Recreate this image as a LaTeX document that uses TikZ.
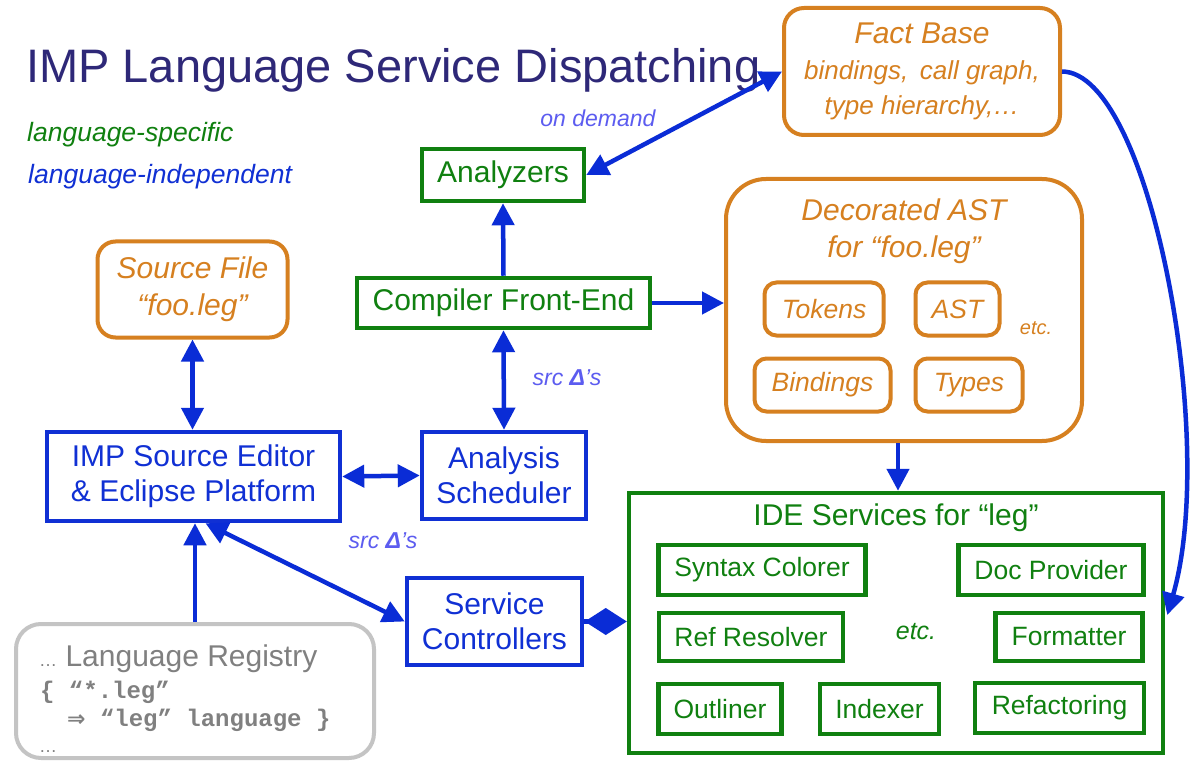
\documentclass[tikz,border=0pt]{standalone}
\usepackage{fontspec}
\setmainfont{Liberation Sans}
\newfontfamily\codefont{Liberation Mono}
\newfontfamily\arrowfont{DejaVu Sans}
\usetikzlibrary{arrows.meta,calc}

\definecolor{impblue}{RGB}{16,48,212}
\definecolor{linkblue}{RGB}{10,44,214}
\definecolor{impgreen}{RGB}{16,128,16}
\definecolor{imporange}{RGB}{214,128,32}
\definecolor{titlenavy}{RGB}{46,40,120}
\definecolor{notecol}{RGB}{92,92,240}
\definecolor{regline}{RGB}{196,196,196}
\definecolor{regtext}{RGB}{128,128,128}

\newcommand\fsz[2]{\fontsize{#1}{#2}\selectfont}

\begin{document}
\begin{tikzpicture}[x=1pt,y=-1pt,
  font=\fsz{30}{35},
  bluebox/.style={draw=impblue, line width=4.5pt, text=impblue, align=center, inner sep=0pt},
  greenbox/.style={draw=impgreen, line width=4.5pt, text=impgreen, align=center, inner sep=0pt},
  svcbox/.style={greenbox, font=\fsz{26.5}{31}},
  orangebox/.style={draw=imporange, line width=4pt, text=imporange, align=center,
                    inner sep=0pt, rounded corners=#1, font=\fsz{30}{37}\itshape},
  orangebox/.default=18pt,
  partbox/.style={orangebox=12pt, font=\fsz{26.5}{31}\itshape},
  note/.style={text=notecol, font=\fsz{23}{26}\itshape},
  link/.style={draw=linkblue, line width=4.5pt, -{Triangle[length=22pt,width=22pt]}},
  duplex/.style={draw=linkblue, line width=4.5pt, {Triangle[length=22pt,width=22pt]}-{Triangle[length=22pt,width=22pt]}}
]
\fill[white] (0,0) rectangle (1192,762);
\useasboundingbox (0,0) rectangle (1192,762);

% title and legend
\node[anchor=base west, inner sep=0pt, text=titlenavy, font=\fsz{47}{52}] (title) at (26,83) {IMP Language Service Dispatching};
\node[anchor=base west, inner sep=0pt, text=impgreen, font=\fsz{26.5}{30}\itshape] (legspec) at (27,142) {language-specific};
\node[anchor=base west, inner sep=0pt, text=impblue, font=\fsz{26.5}{30}\itshape] (legindep) at (28,184) {language-independent};

% fact base
\node[orangebox=20pt, minimum width=276pt, minimum height=127pt] (fb) at (922,71.5)
  {{\fsz{30}{35}\itshape Fact Base}\\[-1pt]
   {\fsz{26}{33}\itshape bindings,\, call graph,}\\[-2pt]
   {\fsz{26}{33}\itshape type hierarchy,\dots}};

% analyzers and compiler front-end
\node[greenbox, minimum width=162pt, minimum height=52pt] (an) at (503,175) {Analyzers};
\node[greenbox, minimum width=293pt, minimum height=50pt] (cfe) at (503.5,303) {Compiler Front-End};
\node[note] (ondemand) at (598,118) {on demand};

% decorated AST with its parts
\node[orangebox=40pt, minimum width=356pt, minimum height=262pt] (dast) at (904,310) {};
\node[text=imporange, align=center, font=\fsz{30}{37}\itshape] (dastlabel) at (904,231.5) {Decorated AST\\for “foo.leg”};
\node[partbox, minimum width=119pt, minimum height=53pt] (tokens) at (824,309) {Tokens};
\node[partbox, minimum width=84pt, minimum height=53pt] (ast) at (957.5,309) {AST};
\node[partbox, minimum width=136pt, minimum height=53pt] (bindings) at (822.5,385) {Bindings};
\node[partbox, minimum width=107pt, minimum height=53pt] (types) at (969,385) {Types};
\node[text=imporange, font=\fsz{20}{24}\itshape] (astetc) at (1036,328) {etc.};

% source file, editor, scheduler
\node[orangebox=18pt, minimum width=190pt, minimum height=96pt] (src) at (192.5,289.5) {Source File\\“foo.leg”};
\node[bluebox, minimum width=293pt, minimum height=89pt] (ed) at (193.5,476.5) {IMP Source Editor\\\& Eclipse Platform};
\node[bluebox, minimum width=164pt, minimum height=87pt] (sched) at (504,475.5) {Analysis\\Scheduler};
\node[note] (deltaA) at (567,378) {src \textbf{Δ}’s};
\node[note] (deltaB) at (383,541) {src \textbf{Δ}’s};

% service controllers
\node[bluebox, minimum width=175pt, minimum height=87pt] (sc) at (494.5,621.5) {Service\\Controllers};

% IDE services
\node[greenbox, minimum width=534pt, minimum height=260pt] (ide) at (896,623) {};
\node[text=impgreen] (idelabel) at (896,518) {IDE Services for “leg”};
\node[svcbox, minimum width=207pt, minimum height=50pt] (syntax) at (762,570) {Syntax Colorer};
\node[svcbox, minimum width=185pt, minimum height=50pt] (doc) at (1051,570) {Doc Provider};
\node[svcbox, minimum width=184pt, minimum height=48pt] (ref) at (751,637) {Ref Resolver};
\node[svcbox, minimum width=147pt, minimum height=48pt] (fmt) at (1069,637) {Formatter};
\node[text=impgreen, font=\fsz{25}{30}\itshape] (ideetc) at (916,632) {etc.};
\node[svcbox, minimum width=123pt, minimum height=50pt] (outl) at (720,709) {Outliner};
\node[svcbox, minimum width=119pt, minimum height=50pt] (idx) at (879.5,709) {Indexer};
\node[svcbox, minimum width=169pt, minimum height=50pt] (refac) at (1059.5,708) {Refactoring};

% language registry
\node[draw=regline, line width=4pt, rounded corners=25pt, minimum width=358pt, minimum height=134pt, inner sep=0pt] (reg) at (195,691) {};
\node[anchor=base west, inner sep=0pt, text=regtext] (regtitle) at (39,666) {{\fsz{18}{20}\dots}\ Language Registry};
\node[anchor=base west, inner sep=0pt, text=regtext, font=\fsz{24}{26}\codefont\bfseries] (regline1) at (40,698) {\{ “*.leg”};
\node[anchor=base west, inner sep=0pt, text=regtext, font=\fsz{24}{26}\codefont\bfseries] (regline2) at (67,726) {{\arrowfont\fsz{22}{26}⇒} “leg” language \}};
\node[anchor=base west, inner sep=0pt, text=regtext, font=\fsz{18}{20}] (regdots) at (39,752) {\dots};

% connectors
\coordinate (dastout) at ($(dast.south)+(-6,0)$);
\draw[duplex] (an.east) -- (fb.west);
\draw[link] (cfe.north) -- (an.south);
\draw[link] (cfe.east) -- (cfe.east -| dast.west);
\draw[duplex] (cfe.south) -- (sched.north);
\draw[duplex] (src.south) -- (src.south |- ed.north);
\draw[duplex] (ed.east) -- (sched.west);
\draw[duplex] ($(ed.south)+(12,0)$) -- (sc.west);
\draw[link] (reg.north) -- (reg.north |- ed.south);
\draw[link] (dastout) -- (dastout |- ide.north);
\draw[draw=linkblue, line width=4.5pt, -{Diamond[length=42pt,width=27pt]}] (sc.east) -- (sc.east -| ide.west);
\draw[link] (fb.east) .. controls (1150,72) and (1218,440) .. ($(ide.east)+(2,-8)$);
\end{tikzpicture}
\end{document}
